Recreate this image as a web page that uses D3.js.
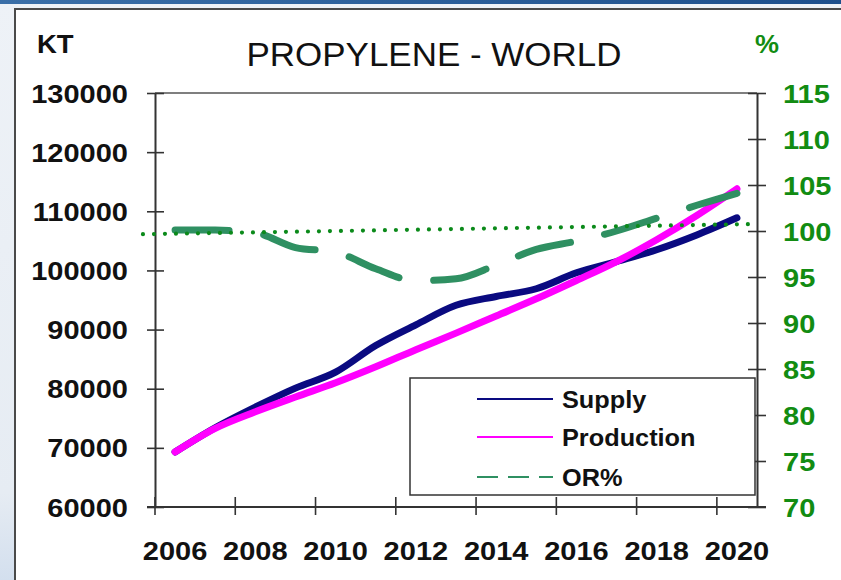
<!DOCTYPE html>
<html>
<head>
<meta charset="utf-8">
<script src="https://cdn.jsdelivr.net/npm/d3@7"></script>
<style>
  html, body { margin: 0; padding: 0; background: #fff; }
  svg { display: block; }
  text { font-family: "Liberation Sans", Arial, sans-serif; }
</style>
</head>
<body>
<svg id="chart" width="841" height="580"></svg>
<script>
// ---- data (kilotonnes, operating rate in %) ----
const years = [2006, 2007, 2008, 2009, 2010, 2011, 2012, 2013, 2014, 2015, 2016, 2017, 2018, 2019, 2020];
const supply = [69300, 73400, 76900, 80100, 82800, 87300, 90800, 94100, 95600, 96900, 99600, 101500, 103500, 106000, 108900];
const production = [69300, 73300, 76100, 78600, 81000, 83700, 86600, 89400, 92300, 95200, 98300, 101500, 105200, 109300, 113800];
const operatingRate = [100.1, 100.1, 99.8, 98.2, 97.7, 95.9, 94.6, 94.8, 96.3, 98.0, 98.9, 100.0, 101.4, 102.8, 104.1];
const leftTicks = [60000, 70000, 80000, 90000, 100000, 110000, 120000, 130000];
const rightTicks = [70, 75, 80, 85, 90, 95, 100, 105, 110, 115];
const yearLabels = [2006, 2008, 2010, 2012, 2014, 2016, 2018, 2020];
// 100 % reference line (drawn slightly beyond the plot on the left)
const parityYears = [2005.7, 2020.88];
const parityPct = [99.65, 100.75];

const legendItems = [
  { name: "Supply", color: "#0a0a80", dash: null },
  { name: "Production", color: "#ff00ff", dash: null },
  { name: "OR%", color: "#2f9062", dash: "21 10" }
];

const svg = d3.select("#chart");
const GREEN_TXT = "#128c12";

// ---- page background & frame ----
const defs = svg.append("defs");
const bg = defs.append("linearGradient").attr("id", "bgGrad").attr("x1", 0).attr("x2", 0).attr("y1", 0).attr("y2", 1);
bg.append("stop").attr("offset", "0%").attr("stop-color", "#eef2f7");
bg.append("stop").attr("offset", "85%").attr("stop-color", "#e6ecf3");
bg.append("stop").attr("offset", "100%").attr("stop-color", "#d3dfee");
const topBar = defs.append("linearGradient").attr("id", "barGrad").attr("x1", 0).attr("x2", 1);
topBar.append("stop").attr("offset", "0%").attr("stop-color", "#3a6fa8");
topBar.append("stop").attr("offset", "100%").attr("stop-color", "#1d4f8c");

svg.append("rect").attr("width", 841).attr("height", 580).attr("fill", "url(#bgGrad)");
svg.append("rect").attr("width", 841).attr("height", 4).attr("fill", "url(#barGrad)");
svg.append("rect").attr("x", 15).attr("y", 9).attr("width", 840).attr("height", 600)
  .attr("fill", "#fff").attr("stroke", "#4a4a4a").attr("stroke-width", 2);

// ---- scales ----
const yL = d3.scaleLinear().domain([60000, 130000]).range([507, 93]);
const yR = d3.scaleLinear().domain([70, 115]).range([507, 93]);
const xBand = d3.scaleBand().domain(years).range([155, 757]).padding(0);
const xMid = yr => xBand(yr) + xBand.bandwidth() / 2;
const xLin = d3.scaleLinear().domain([2006, 2021]).range([155, 757]);

function stretch(sel, f) {
  sel.each(function () {
    const w = this.getComputedTextLength();
    d3.select(this).attr("textLength", w * f).attr("lengthAdjust", "spacingAndGlyphs");
  });
}
function stretchTo(sel, width) {
  sel.attr("textLength", width).attr("lengthAdjust", "spacingAndGlyphs");
}

// ---- plot top border ----
svg.append("line").attr("x1", xLin(2006)).attr("x2", xLin(2021))
  .attr("y1", yL(130000)).attr("y2", yL(130000))
  .attr("stroke", "#555").attr("stroke-width", 1.5);

// ---- left axis ----
const gL = svg.append("g").attr("transform", `translate(${xLin(2006)},0)`)
  .call(d3.axisLeft(yL).tickValues(leftTicks).tickSizeInner(8).tickSizeOuter(0).tickPadding(19).tickFormat(d3.format("d")));
gL.select(".domain").attr("stroke", "#333").attr("stroke-width", 2);
gL.selectAll(".tick line").attr("x1", 9).attr("stroke", "#333").attr("stroke-width", 1.6);
gL.selectAll(".tick text").attr("font-size", 25).attr("font-weight", "bold").attr("fill", "#111")
  .attr("dy", "0.36em").call(stretch, 1.16);

// ---- right axis ----
const gR = svg.append("g").attr("transform", `translate(${xLin(2021)},0)`)
  .call(d3.axisRight(yR).tickValues(rightTicks).tickSizeInner(9).tickSizeOuter(0).tickPadding(17));
gR.select(".domain").attr("stroke", "#333").attr("stroke-width", 2);
gR.selectAll(".tick line").attr("x1", -9).attr("stroke", "#333").attr("stroke-width", 1.6);
gR.selectAll(".tick text").attr("font-size", 25).attr("font-weight", "bold").attr("fill", GREEN_TXT)
  .attr("dy", "0.36em").call(stretch, 1.16);

// ---- bottom axis ----
const gB = svg.append("g").attr("transform", `translate(0,${yL(60000)})`)
  .call(d3.axisBottom(xBand).tickValues(yearLabels).tickSizeInner(8).tickSizeOuter(0));
gB.select(".domain").attr("stroke", "#333").attr("stroke-width", 2)
  .attr("d", `M${xLin(2006) - 8},0H${xLin(2021) + 9}`);
gB.selectAll(".tick line")
  .attr("x1", -xBand.bandwidth() / 2).attr("x2", -xBand.bandwidth() / 2)
  .attr("y1", -10).attr("y2", 8).attr("stroke", "#333").attr("stroke-width", 1.6);
gB.selectAll(".tick text").attr("font-size", 25).attr("font-weight", "bold").attr("fill", "#111")
  .attr("y", 53).attr("dy", 0).call(stretch, 1.16);

// ---- series ----
const lineL = d3.line().x((d, i) => xMid(years[i])).y(d => yL(d)).curve(d3.curveMonotoneX);
const lineR = d3.line().x((d, i) => xMid(years[i])).y(d => yR(d)).curve(d3.curveMonotoneX);

svg.append("path").datum(supply).attr("d", lineL)
  .attr("fill", "none").attr("stroke", legendItems[0].color).attr("stroke-width", 7)
  .attr("stroke-linecap", "round").attr("stroke-linejoin", "round");
svg.append("path").datum(production).attr("d", lineL)
  .attr("fill", "none").attr("stroke", legendItems[1].color).attr("stroke-width", 7)
  .attr("stroke-linecap", "round").attr("stroke-linejoin", "round");
svg.append("path").datum(operatingRate).attr("d", lineR)
  .attr("fill", "none").attr("stroke", legendItems[2].color).attr("stroke-width", 7)
  .attr("stroke-dasharray", "54 35").attr("stroke-linecap", "round");

// 100 % reference (dotted)
svg.append("path").datum(parityPct)
  .attr("d", d3.line().x((d, i) => xLin(parityYears[i])).y(d => yR(d)))
  .attr("fill", "none").attr("stroke", "#0b8a1a").attr("stroke-width", 4.2)
  .attr("stroke-dasharray", "0 11").attr("stroke-linecap", "round");

// ---- legend ----
const lg = svg.append("g");
lg.append("rect").attr("x", 410).attr("y", 378).attr("width", 345).attr("height", 117)
  .attr("fill", "#fff").attr("stroke", "#333").attr("stroke-width", 1.5);
const legendY = [399, 437, 477];
legendItems.forEach((it, i) => {
  lg.append("line").attr("x1", 477).attr("x2", 553).attr("y1", legendY[i]).attr("y2", legendY[i])
    .attr("stroke", it.color).attr("stroke-width", 2.2)
    .attr("stroke-dasharray", it.dash);
  lg.append("text").attr("x", 562).attr("y", legendY[i] + 8.5).text(it.name)
    .attr("font-size", 23).attr("font-weight", "bold").attr("fill", "#111")
    .call(stretch, 1.1);
});

// ---- titles ----
svg.append("text").attr("x", 434).attr("y", 66).attr("text-anchor", "middle")
  .attr("font-size", 33).attr("fill", "#111").text("PROPYLENE - WORLD")
  .call(stretchTo, 375);
svg.append("text").attr("x", 37).attr("y", 53).attr("font-size", 25).attr("font-weight", "bold")
  .attr("fill", "#111").text("KT").call(stretch, 1.1);
svg.append("text").attr("x", 755).attr("y", 53).attr("font-size", 25).attr("font-weight", "bold")
  .attr("fill", GREEN_TXT).text("%").call(stretch, 1.08);
</script>
</body>
</html>
